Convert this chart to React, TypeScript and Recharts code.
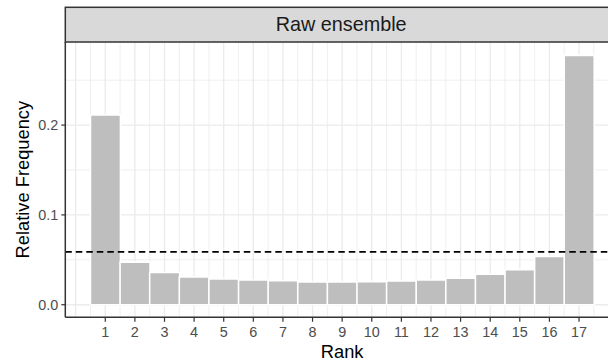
import { Bar, BarChart, Label, ReferenceLine, XAxis, YAxis } from "recharts";

// rank histogram, 16-member raw ensemble -> 17 ranks
const ranks = [1, 2, 3, 4, 5, 6, 7, 8, 9, 10, 11, 12, 13, 14, 15, 16, 17];
const relFreq = [
  0.2112, 0.0474, 0.0358, 0.0309, 0.0287, 0.0276, 0.0268, 0.0253, 0.0253,
  0.0257, 0.0264, 0.0276, 0.0294, 0.0339, 0.0391, 0.0537, 0.2775,
];
const yTicks = [0, 0.1, 0.2];
const yMinor = [0.05, 0.15, 0.25];
const xGrid = Array.from({ length: 37 }, (_, i) => i * 0.5);

const data = ranks.map((rank, i) => ({ rank, freq: relFreq[i] }));
const uniform = 1 / ranks.length;

const FONT = '"Liberation Sans", Arial, Helvetica, sans-serif';
const DARK = "#333333";
const GRID = "#ebebeb";

const W = 619;
const H = 361;
const PLOT_LEFT = 65.3;
const PLOT_TOP = 42;
const X_AXIS_H = 43.7;

function XTitle(props: any) {
  const { viewBox } = props;
  return (
    <text
      x={viewBox.x + viewBox.width / 2}
      y={357.7}
      textAnchor="middle"
      fontSize={18.3}
      fill="#000"
      fontFamily={FONT}
    >
      Rank
    </text>
  );
}

function YTitle(props: any) {
  const { viewBox } = props;
  const cx = 29.5;
  const cy = viewBox.y + viewBox.height / 2;
  return (
    <text
      x={cx}
      y={cy}
      transform={`rotate(-90 ${cx} ${cy})`}
      textAnchor="middle"
      fontSize={18.3}
      fill="#000"
      fontFamily={FONT}
    >
      Relative Frequency
    </text>
  );
}

export default function App() {
  const tickStyle = { fill: "#4d4d4d", fontSize: 14.4, fontFamily: FONT };
  return (
    <div style={{ position: "absolute", left: 0, top: 0, width: 608, height: 361, overflow: "hidden", background: "#fff" }}>
      <BarChart
        width={W}
        height={H}
        data={data}
        margin={{ top: PLOT_TOP, right: 0, bottom: 0, left: 0 }}
        barCategoryGap={0}
      >
        {xGrid.map((v) => (
          <ReferenceLine
            key={`vx${v}`}
            x={v}
            stroke={GRID}
            strokeWidth={Number.isInteger(v) ? 1.3 : 0.8}
            zIndex={-100}
          />
        ))}
        {yMinor.map((v) => (
          <ReferenceLine key={`hm${v}`} y={v} stroke={GRID} strokeWidth={0.8} zIndex={-100} />
        ))}
        {yTicks.map((v) => (
          <ReferenceLine key={`hj${v}`} y={v} stroke={GRID} strokeWidth={1.3} zIndex={-100} />
        ))}
        <XAxis
          type="number"
          dataKey="rank"
          domain={[-0.35, 18.35]}
          allowDataOverflow
          ticks={ranks}
          interval={0}
          height={X_AXIS_H}
          tickSize={4.5}
          tickMargin={4.5}
          tick={tickStyle}
          tickLine={{ stroke: DARK, strokeWidth: 1.2 }}
          axisLine={{ stroke: DARK, strokeWidth: 1.5 }}
        >
          <Label content={<XTitle />} />
        </XAxis>
        <YAxis
          type="number"
          domain={[-0.014, 0.2925]}
          allowDataOverflow
          ticks={yTicks}
          interval={0}
          width={PLOT_LEFT}
          tickSize={4}
          tickMargin={3}
          tick={tickStyle}
          tickFormatter={(v: number) => v.toFixed(1)}
          tickLine={{ stroke: DARK, strokeWidth: 1.2 }}
          axisLine={{ stroke: DARK, strokeWidth: 1.5 }}
        >
          <Label content={<YTitle />} />
        </YAxis>
        <Bar dataKey="freq" fill="#bebebe" stroke="#ffffff" strokeWidth={1.6} isAnimationActive={false} />
        <ReferenceLine y={uniform} stroke="#000" strokeWidth={1.7} strokeDasharray="6.5 4" />
      </BarChart>
      {/* facet strip */}
      <svg width={608} height={361} style={{ position: "absolute", left: 0, top: 0, pointerEvents: "none" }}>
        <rect x={PLOT_LEFT} y={7.3} width={W - PLOT_LEFT + 2} height={PLOT_TOP - 7.3} fill="#d9d9d9" stroke={DARK} strokeWidth={1.5} />
        <text x={(PLOT_LEFT + W) / 2 - 1} y={30.7} textAnchor="middle" fontSize={19.8} fill="#1a1a1a" fontFamily={FONT}>
          Raw ensemble
        </text>
      </svg>
    </div>
  );
}
